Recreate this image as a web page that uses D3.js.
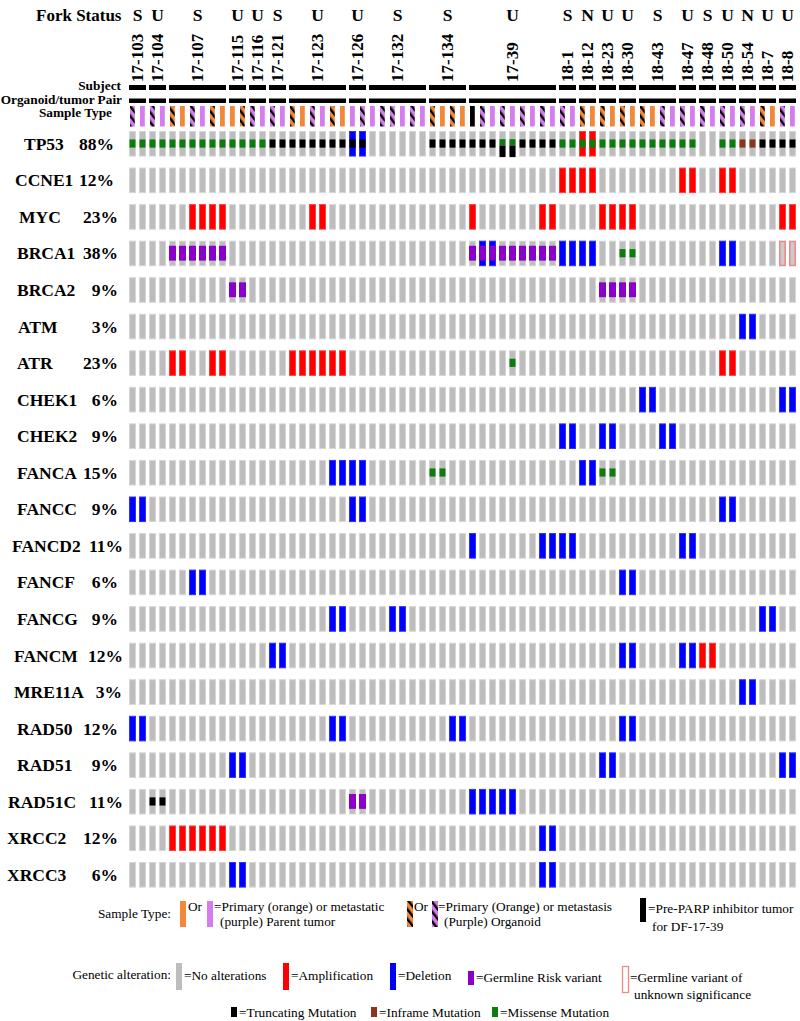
<!DOCTYPE html>
<html>
<head>
<meta charset="utf-8">
<script src="https://cdn.jsdelivr.net/npm/d3@7"></script>
<style>
  body { margin: 0; background: #fff; }
  svg { display: block; font-family: "Liberation Serif", "Times New Roman", serif; }
</style>
</head>
<body>
<svg id="chart" width="800" height="1021"></svg>
<script>
// ---- data ----
var genes = ['TP53','CCNE1','MYC','BRCA1','BRCA2','ATM','ATR','CHEK1','CHEK2','FANCA','FANCC',
  'FANCD2','FANCF','FANCG','FANCM','MRE11A','RAD50','RAD51','RAD51C','XRCC2','XRCC3'];
var percents = ['88%','12%','23%','38%','9%','3%','23%','6%','9%','15%','9%',
  '11%','6%','9%','12%','3%','12%','9%','11%','12%','6%'];

var subjects = ['17-103','17-104','17-107','17-115','17-116','17-121','17-123','17-126','17-132','17-134','17-39',
  '18-1','18-12','18-23','18-30','18-43','18-47','18-48','18-50','18-54','18-7','18-8'];
var subjectSamples = [2,2,6,2,2,2,6,2,6,4,9,2,2,2,2,4,2,2,2,2,2,2];
var forkStatus = ['S','U','S','U','U','S','U','U','S','S','U','S','N','U','U','S','U','S','U','N','U','U'];

// P = primary parent, M = metastatic parent, p = primary organoid, m = metastatic organoid, X = pre-PARP tumor
var sampleType = ('mM mM pPmMpP Pp mM mM pPmMpP Mm MmmMmM pPpP XmMmMmMmM mM pP pP pP pPmM ' +
  'mM mM mM mM pP mM').replace(/ /g, '').split('');

// column indices (0..66) of altered samples, per gene
var amplification = {
  TP53: [45,46],
  CCNE1: [43,44,45,46,55,56,59,60],
  MYC: [6,7,8,9,18,19,34,41,42,47,48,49,50,65,66],
  ATR: [4,5,8,9,16,17,18,19,20,21,59,60],
  FANCM: [57,58],
  XRCC2: [4,5,6,7,8,9]
};
var deletion = {
  TP53: [22,23],
  BRCA1: [35,36,43,44,45,46,59,60],
  ATM: [61,62],
  CHEK1: [51,52,65,66],
  CHEK2: [43,44,47,48,53,54],
  FANCA: [20,21,22,23,45,46],
  FANCC: [0,1,22,23,59,60],
  FANCD2: [34,41,42,43,44,55,56],
  FANCF: [6,7,49,50],
  FANCG: [20,21,26,27,63,64],
  FANCM: [14,15,49,50,55,56],
  MRE11A: [61,62],
  RAD50: [0,1,20,21,32,33,49,50],
  RAD51: [10,11,47,48,65,66],
  RAD51C: [34,35,36,37,38],
  XRCC2: [41,42],
  XRCC3: [10,11,41,42]
};
var germlineRisk = {
  BRCA1: [4,5,6,7,8,9,34,35,36,37,38,39,40,41,42],
  BRCA2: [10,11,47,48,49,50],
  RAD51C: [22,23]
};
var germlineVUS = { BRCA1: [65,66] };
var missense = {
  TP53: [0,1,2,3,4,5,6,7,8,9,10,11,12,13,37,38,43,44,45,46,47,48,49,50,51,52,53,54,55,56,59,60],
  BRCA1: [49,50],
  ATR: [38],
  FANCA: [30,31,47,48]
};
var truncating = {
  TP53: [14,15,16,17,18,19,20,21,22,23,30,31,32,33,34,35,36,37,38,39,40,41,42,63,64,65,66],
  RAD51C: [2,3]
};
var inframe = { TP53: [61,62] };

// ---- drawing ----
var colors = {
  none: '#bdbdbd', amp: '#ff0000', del: '#0000ff', germ: '#8a00c8', vus: '#f08a8a',
  trunc: '#000000', inframe: '#8b3418', missense: '#0a7d0a',
  orange: '#f2893a', purple: '#d47cf0'
};

var svg = d3.select('#chart');

var x = d3.scaleBand()
  .domain(d3.range(sampleType.length))
  .range([129, 796])
  .paddingInner(0.3);

var y = d3.scaleBand()
  .domain(genes)
  .range([131, 887.6])
  .paddingInner(0.3);

var defs = svg.append('defs');
[['stripe-P', colors.orange], ['stripe-M', colors.purple]].forEach(function(p) {
  var pat = defs.append('pattern')
    .attr('id', p[0])
    .attr('patternUnits', 'userSpaceOnUse')
    .attr('width', 6).attr('height', 6)
    .attr('patternTransform', 'rotate(-38)');
  pat.append('rect').attr('width', 6).attr('height', 6).attr('fill', p[1]);
  pat.append('rect').attr('width', 2.4).attr('height', 6).attr('fill', '#000');
});

function sampleFill(t) {
  if (t === 'P') return colors.orange;
  if (t === 'M') return colors.purple;
  if (t === 'p') return 'url(#stripe-P)';
  if (t === 'm') return 'url(#stripe-M)';
  return '#000';
}

// subject groups
var groups = [];
var start = 0;
subjects.forEach(function(s, i) {
  groups.push({ name: s, fork: forkStatus[i], first: start, last: start + subjectSamples[i] - 1 });
  start += subjectSamples[i];
});
function groupCenter(g) { return (x(g.first) + x(g.last) + x.bandwidth()) / 2; }

// header
svg.append('text')
  .attr('x', 36).attr('y', 21)
  .attr('font-size', 17).attr('font-weight', 'bold')
  .text('Fork Status');

svg.selectAll('.fork')
  .data(groups).enter().append('text')
  .attr('class', 'fork')
  .attr('x', groupCenter).attr('y', 21)
  .attr('text-anchor', 'middle')
  .attr('font-size', 17.5).attr('font-weight', 'bold')
  .text(function(d) { return d.fork; });

svg.selectAll('.subject-label')
  .data(groups).enter().append('text')
  .attr('class', 'subject-label')
  .attr('transform', function(d) { return 'translate(' + groupCenter(d) + ',82) rotate(-90)'; })
  .attr('dy', '0.34em')
  .attr('font-size', 17).attr('font-weight', 'bold')
  .text(function(d) { return d.name; });

svg.selectAll('.subject-bar')
  .data(groups).enter().append('rect')
  .attr('x', function(d) { return x(d.first); })
  .attr('width', function(d) { return x(d.last) + x.bandwidth() - x(d.first); })
  .attr('y', 85).attr('height', 5).attr('fill', '#000');

svg.selectAll('.pair-bar')
  .data(groups).enter().append('rect')
  .attr('x', function(d) { return x(d.first); })
  .attr('width', function(d) { return x(d.last) + x.bandwidth() - x(d.first); })
  .attr('y', 98.5).attr('height', 4.5).attr('fill', '#000');

[['Subject', 121, 90], ['Organoid/tumor Pair', 122, 104], ['Sample Type', 112, 117]].forEach(function(l) {
  svg.append('text')
    .attr('x', l[1]).attr('y', l[2])
    .attr('text-anchor', 'end')
    .attr('font-size', 13.3).attr('font-weight', 'bold')
    .text(l[0]);
});

svg.selectAll('.sample')
  .data(sampleType).enter().append('rect')
  .attr('x', function(d, i) { return x(i) + 1; })
  .attr('width', x.bandwidth() - 2.2)
  .attr('y', 106).attr('height', 20.5)
  .attr('fill', sampleFill);

// gene labels (name left edge and percent right edge vary a little in the figure)
var nameX = [24,15,19,17,17,18,17,17,17,17,17,12,17,17,14,14,17,17,8,7,7];
var pctEnd = [114,114,118,118,118,118,118,118,118,118,118,123,118,118,123,122,118,118,123,118,118];
genes.forEach(function(g, gi) {
  var yy = y(g) + y.bandwidth() / 2 + 6;
  svg.append('text')
    .attr('x', nameX[gi]).attr('y', yy)
    .attr('font-size', 17.5).attr('font-weight', 'bold')
    .text(g);
  svg.append('text')
    .attr('x', pctEnd[gi]).attr('y', yy)
    .attr('text-anchor', 'end')
    .attr('font-size', 17.5).attr('font-weight', 'bold')
    .text(percents[gi]);
});

// cells
var cells = [];
genes.forEach(function(g) {
  sampleType.forEach(function(t, i) {
    var c = { gene: g, col: i, full: null, vus: false, germ: false, small: [] };
    if ((amplification[g] || []).indexOf(i) >= 0) c.full = 'amp';
    if ((deletion[g] || []).indexOf(i) >= 0) c.full = 'del';
    if ((germlineVUS[g] || []).indexOf(i) >= 0) c.vus = true;
    if ((germlineRisk[g] || []).indexOf(i) >= 0) c.germ = true;
    if ((missense[g] || []).indexOf(i) >= 0) c.small.push('missense');
    if ((inframe[g] || []).indexOf(i) >= 0) c.small.push('inframe');
    if ((truncating[g] || []).indexOf(i) >= 0) c.small.push('trunc');
    cells.push(c);
  });
});

var cellG = svg.selectAll('.cell')
  .data(cells).enter().append('g')
  .attr('class', 'cell')
  .attr('transform', function(d) { return 'translate(' + x(d.col) + ',' + y(d.gene) + ')'; });

var bw = x.bandwidth(), bh = y.bandwidth();

cellG.append('rect')
  .attr('x', function(d) { return d.vus ? 0.8 : 0.5; })
  .attr('y', function(d) { return d.vus ? 0.8 : 0.5; })
  .attr('width', function(d) { return d.vus ? bw - 1.6 : bw - 1; })
  .attr('height', function(d) { return d.vus ? bh - 1.6 : bh - 1; })
  .attr('fill', function(d) {
    if (d.full) return colors[d.full];
    return d.vus ? '#cbcbcb' : colors.none;
  })
  .attr('stroke', function(d) {
    if (d.vus) return colors.vus;
    if (d.full === 'amp') return '#ff4040';
    if (d.full === 'del') return '#3030ff';
    return '#d6d6d6';
  })
  .attr('stroke-width', function(d) { return d.vus ? 1.6 : 1; });

cellG.filter(function(d) { return d.germ; }).append('rect')
  .attr('x', 0).attr('width', bw)
  .attr('y', bh * 0.2).attr('height', bh * 0.58)
  .attr('fill', colors.germ);

cellG.each(function(d) {
  var g = d3.select(this);
  d.small.forEach(function(m, k) {
    var top = d.small.length > 1 ? (k === 0 ? 0.32 : 0.57) : 0.33;
    var h = d.small.length > 1 ? (k === 0 ? 0.25 : 0.45) : 0.32;
    g.append('rect')
      .attr('x', 0.5).attr('width', bw - 1)
      .attr('y', bh * top).attr('height', bh * h)
      .attr('fill', colors[m]);
  });
});

// ---- legend ----
var legend = svg.append('g').attr('font-size', 13.3);

function legendText(tx, ty, s) {
  legend.append('text').attr('x', tx).attr('y', ty).text(s);
}
function swatch(sx, sy, w, h, fill, stroke) {
  legend.append('rect').attr('x', sx).attr('y', sy).attr('width', w).attr('height', h)
    .attr('fill', fill).attr('stroke', stroke || 'none').attr('stroke-width', 1.3);
}

legend.append('text').attr('x', 171).attr('y', 918).attr('text-anchor', 'end').text('Sample Type:');
swatch(180, 901, 6, 26, colors.orange);
legendText(188, 911, 'Or');
swatch(207, 901, 6, 26, colors.purple);
legendText(214, 911, '=Primary (orange) or metastatic');
legendText(220, 926, '(purple) Parent tumor');
swatch(407, 901, 6, 26, 'url(#stripe-P)');
legendText(414, 911, 'Or');
swatch(432, 901, 6, 26, 'url(#stripe-M)');
legendText(438, 911, '=Primary (Orange) or metastasis');
legendText(444, 926, '(Purple) Organoid');
swatch(640, 898, 6, 24, '#000');
legendText(648, 913, '=Pre-PARP inhibitor tumor');
legendText(652, 931, 'for DF-17-39');

legend.append('text').attr('x', 171).attr('y', 979).attr('text-anchor', 'end').text('Genetic alteration:');
swatch(176, 963, 6, 27, colors.none);
legendText(184, 980, '=No alterations');
swatch(283, 963, 6, 27, colors.amp);
legendText(291, 980, '=Amplification');
swatch(390, 963, 6, 27, colors.del);
legendText(398, 980, '=Deletion');
swatch(468, 971, 6, 14, colors.germ);
legendText(476, 982, '=Germline Risk variant');
swatch(622.5, 966.5, 6, 26, '#fff', colors.vus);
legendText(630, 982, '=Germline variant of');
legendText(634, 999, 'unknown significance');

swatch(231, 1007, 6, 10, colors.trunc);
legendText(239, 1017, '=Truncating Mutation');
swatch(371, 1007, 6, 10, colors.inframe);
legendText(379, 1017, '=Inframe Mutation');
swatch(492, 1007, 6, 10, colors.missense);
legendText(500, 1017, '=Missense Mutation');
</script>
</body>
</html>
